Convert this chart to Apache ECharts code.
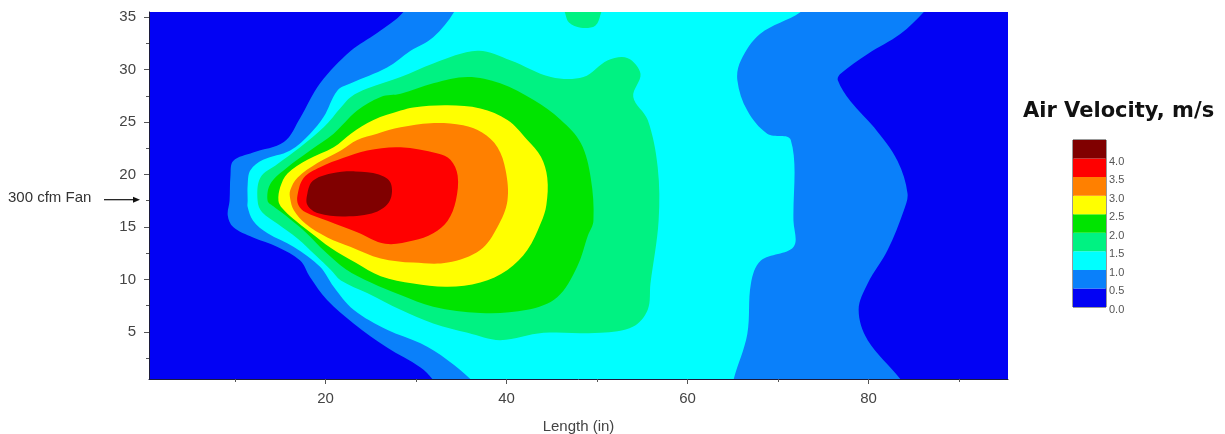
<!DOCTYPE html>
<html><head><meta charset="utf-8">
<script src="https://cdn.jsdelivr.net/npm/echarts@6/dist/echarts.min.js"></script>
<style>html,body{margin:0;padding:0;background:#fff}#c{width:1225px;height:434px}</style>
</head><body><div id="c"></div>
<script>
// ---- axis & legend values ----
const xRange = [0.5, 95.4];
const yRange = [0.5, 35.5];
const xTickValues = [20, 40, 60, 80];
const xMinorTicks = [10, 30, 50, 70, 90];
const yTickValues = [5, 10, 15, 20, 25, 30, 35];
const yMinorTicks = [2.5, 7.5, 12.5, 17.5, 22.5, 27.5, 32.5];
const levelValues = [0.0, 0.5, 1.0, 1.5, 2.0, 2.5, 3.0, 3.5, 4.0];
const levelColors = ['#0202F4', '#0A80FA', '#00FFFF', '#00F282', '#00E400', '#FFFF00', '#FF8000', '#FF0000', '#800000'];
const fanY = 17.6;
const xName = 'Length (in)';
const legendTitle = 'Air Velocity, m/s';
const fanLabel = '300 cfm Fan';

// ---- contour boundaries (Length in, Height in) ----
const region00 = [[0.5,0.5],[95.4,0.5],[95.4,35.5],[0.5,35.5]];
const region05 = [[29.0,37],[28.6,35.5],[25.7,33.5],[22.8,31.8],[19.4,28.7],[17.2,25.4],[15.4,23.1],[12.0,22.1],[9.8,21.3],[9.5,19.9],[9.4,17.5],[9.2,16.1],[9.8,15.0],[12.0,14.0],[14.7,13.1],[17.2,11.8],[18.3,10.2],[20.2,8.0],[23.1,5.8],[26.8,3.5],[30.5,1.6],[31.8,0.5],[33,-1],[60,-1.5],[84.5,-1],[83.5,0.5],[79.9,4.2],[78.9,7.1],[79.9,9.6],[82.1,12.8],[83.9,16.6],[84.3,18.2],[83.2,21.3],[80.6,24.5],[78.0,27.0],[76.6,29.0],[76.9,29.6],[79.9,31.5],[83.5,33.4],[86.1,35.5],[87.5,37],[60,37.5]];
const region10 = [[34.6,37],[34.2,35.5],[31.9,33.1],[29.4,31.8],[26.8,30.2],[22.8,28.7],[21.3,28.0],[19.8,25.5],[18.3,23.9],[16.1,22.3],[13.1,21.4],[11.7,20.4],[11.4,19.0],[11.4,17.5],[11.4,16.9],[12.0,15.6],[13.6,14.4],[16.5,13.1],[19.4,11.2],[20.9,9.3],[23.1,7.1],[26.8,5.2],[30.5,3.9],[33.5,2.3],[36.0,0.5],[37.5,-1],[50,-1.5],[64.8,-1],[65.1,0.5],[66.6,4.8],[67.0,9.6],[68.1,11.8],[71.7,13.1],[71.7,15.6],[71.4,23.3],[68.8,23.9],[66.6,26.1],[65.5,29.0],[65.9,30.9],[68.0,33.4],[72.5,35.5],[74,37],[55,37.5]];
const region15 = [[12.5,17.5],[12.8,19.7],[14.7,21.0],[17.2,22.6],[19.8,24.5],[21.7,26.4],[22.8,27.4],[24.6,28.2],[28.3,29.3],[31.9,30.6],[36.8,31.8],[40.4,30.9],[44.9,29.3],[48.5,29.3],[51.2,30.9],[53.4,31.1],[54.8,29.6],[54.0,27.4],[55.6,25.2],[56.7,20.7],[56.8,15.6],[55.9,9.6],[55.6,7.1],[54.0,5.5],[50.4,4.9],[44.1,4.9],[39.3,4.2],[35.7,4.9],[31.9,5.8],[28.3,7.1],[24.6,8.7],[21.7,9.9],[20.6,10.9],[18.9,12.3],[16.9,13.9],[14.7,15.3],[13.0,16.4]];
const region15Top = [[46.3,36.5],[46.5,35.3],[46.9,34.5],[48.2,34.0],[49.8,34.2],[50.4,35.3],[50.6,36.5]];
const region20 = [[13.6,17.5],[13.9,19.1],[15.8,20.7],[18.3,22.3],[20.9,23.9],[23.5,26.1],[26.1,27.4],[28.3,27.7],[31.9,28.7],[35.7,29.3],[39.3,28.7],[43.0,27.1],[46.0,25.2],[48.2,23.0],[49.3,19.7],[49.6,15.6],[49.0,14.2],[47.8,11.2],[45.6,8.3],[42.3,7.1],[37.1,6.8],[31.9,7.4],[28.3,8.5],[25.0,9.7],[22.2,11.0],[20.0,12.6],[17.8,14.5],[15.6,16.1],[14.2,17.0]];
const region25 = [[14.8,17.5],[15.0,18.8],[15.8,20.1],[18.0,21.4],[20.9,22.6],[22.8,23.9],[25.3,25.2],[28.3,26.1],[29.7,26.4],[33.5,26.6],[37.1,26.3],[40.1,25.2],[42.3,23.3],[43.8,21.7],[44.5,19.7],[44.4,17.1],[43.8,15.4],[42.3,12.8],[40.1,10.9],[37.1,9.7],[33.5,9.3],[29.7,9.6],[26.1,10.3],[23.3,11.6],[20.6,13.0],[18.3,14.5],[16.4,15.8],[15.2,16.8]];
const region30 = [[16.1,17.7],[16.1,18.5],[16.9,19.7],[19.1,21.1],[21.7,22.3],[23.5,23.3],[25.7,23.9],[28.3,24.5],[31.6,24.9],[35.2,24.7],[37.3,24.0],[39.0,22.6],[39.9,20.4],[40.1,17.5],[39.0,15.0],[37.1,12.8],[33.5,11.6],[29.7,11.6],[26.1,12.0],[22.8,13.1],[20.2,14.0],[17.8,15.3],[16.5,16.6]];
const region35 = [[16.9,18.0],[17.6,19.7],[19.4,20.7],[22.0,21.6],[24.6,22.3],[28.3,22.6],[32.4,22.0],[33.8,21.4],[34.6,19.9],[34.4,17.5],[33.5,15.6],[31.9,14.4],[29.7,13.7],[26.6,13.4],[23.5,14.5],[20.2,15.6],[17.8,16.4],[17.0,17.1]];
const region40 = [[18.0,18.2],[18.6,19.4],[20.6,20.1],[23.3,20.3],[25.9,20.0],[27.2,19.2],[27.1,17.5],[25.5,16.4],[22.2,16.0],[19.2,16.3],[18.0,17.1]];

const contourRings = [
  {lvl: 0, pts: region00}, {lvl: 1, pts: region05}, {lvl: 2, pts: region10},
  {lvl: 3, pts: region15}, {lvl: 3, pts: region15Top}, {lvl: 4, pts: region20},
  {lvl: 5, pts: region25}, {lvl: 6, pts: region30}, {lvl: 7, pts: region35},
  {lvl: 8, pts: region40}
];

const chart = echarts.init(document.getElementById('c'), null, {renderer: 'canvas'});
const labelFont = 'Liberation Sans, Arial, sans-serif';
const axisLineColor = '#1c1c3c';

function renderContour(params, api) {
  const r = contourRings[params.dataIndex];
  const pts = r.pts.map(p => api.coord(p));
  const cs = params.coordSys;
  return {
    type: 'polygon',
    shape: {points: pts, smooth: r.lvl === 0 ? 0 : 0.35},
    style: {fill: levelColors[r.lvl]},
    clipPath: {type: 'rect', shape: {x: cs.x, y: cs.y, width: cs.width, height: cs.height}}
  };
}
function renderBand(params, api) {
  const lo = api.value(1), hi = api.value(2);
  const top = api.coord([0, hi]);
  const bot = api.coord([0, lo]);
  const w = api.size([1, 0])[0];
  return {
    type: 'rect',
    shape: {x: top[0] - w / 2, y: top[1], width: w, height: bot[1] - top[1]},
    style: {fill: levelColors[api.value(3)]}
  };
}

chart.setOption({
  animation: false,
  backgroundColor: '#ffffff',
  title: {
    text: legendTitle, left: 1023, top: 101, padding: 0,
    textStyle: {fontFamily: 'DejaVu Sans', fontWeight: 'bold', fontSize: 21, color: '#111'}
  },
  grid: [
    {left: 149, top: 12, width: 859, height: 367, outerBoundsMode: 'none', containLabel: false},
    {left: 1073, top: 140, width: 33, height: 167, outerBoundsMode: 'none', containLabel: false,
     show: true, borderColor: '#333', borderWidth: 1, backgroundColor: 'transparent'}
  ],
  xAxis: [
    {type: 'value', gridIndex: 0, min: xRange[0], max: xRange[1], position: 'bottom', z: 10,
     name: xName, nameLocation: 'middle', nameGap: 40,
     nameTextStyle: {fontFamily: labelFont, fontSize: 15, color: '#444'},
     axisLine: {show: true, lineStyle: {color: axisLineColor, width: 1}},
     axisTick: {show: true, length: 5, customValues: xTickValues, lineStyle: {color: '#555'}},
     axisLabel: {customValues: xTickValues, margin: 12, fontFamily: labelFont, fontSize: 15, color: '#444'},
     splitLine: {show: false}},
    {type: 'value', gridIndex: 0, min: xRange[0], max: xRange[1], position: 'bottom', z: 10,
     axisLine: {show: false},
     axisTick: {show: true, length: 3, customValues: xMinorTicks, lineStyle: {color: '#555'}},
     axisLabel: {show: false}, splitLine: {show: false}},
    {type: 'category', gridIndex: 1, data: ['v'], show: false}
  ],
  yAxis: [
    {type: 'value', gridIndex: 0, min: yRange[0], max: yRange[1], position: 'left', z: 10,
     axisLine: {show: true, lineStyle: {color: axisLineColor, width: 1}},
     axisTick: {show: true, length: 5, customValues: yTickValues, lineStyle: {color: '#555'}},
     axisLabel: {customValues: yTickValues, margin: 13, fontFamily: labelFont, fontSize: 15, color: '#444'},
     splitLine: {show: false}},
    {type: 'value', gridIndex: 0, min: yRange[0], max: yRange[1], position: 'left', z: 10,
     axisLine: {show: false},
     axisTick: {show: true, length: 3, customValues: yMinorTicks, lineStyle: {color: '#555'}},
     axisLabel: {show: false}, splitLine: {show: false}},
    {type: 'value', gridIndex: 1, min: 0, max: 4.5, position: 'right',
     axisLine: {show: false}, axisTick: {show: false}, splitLine: {show: false},
     axisLabel: {customValues: levelValues, margin: 3,
                 formatter: v => '{t|' + v.toFixed(1) + '}',
                 rich: {t: {fontFamily: labelFont, fontSize: 11, color: '#555', padding: [6, 0, 0, 0]}}}}
  ],
  series: [
    {type: 'custom', xAxisIndex: 0, yAxisIndex: 0, silent: true, clip: true,
     data: contourRings.map((r, i) => [r.pts[0][0], r.pts[0][1], i]),
     renderItem: renderContour},
    {type: 'custom', xAxisIndex: 2, yAxisIndex: 2, silent: true,
     data: levelValues.map((lo, i) => [0, lo, lo + 0.5, i]),
     encode: {x: 0, y: [1, 2]},
     renderItem: renderBand}
  ]
});

// annotation: fan position arrow, placed through the y axis scale
const fanPx = chart.convertToPixel({yAxisIndex: 0}, fanY);
const axisPx = chart.convertToPixel({xAxisIndex: 0}, xRange[0]);
chart.setOption({
  graphic: [
    {type: 'text', left: 8, top: fanPx - 9,
     style: {text: fanLabel, fontFamily: labelFont, fontSize: 15, fill: '#333'}},
    {type: 'line', shape: {x1: 104, y1: fanPx, x2: axisPx - 13, y2: fanPx},
     style: {stroke: '#111', lineWidth: 1.2}},
    {type: 'polygon', shape: {points: [[axisPx - 16, fanPx - 3], [axisPx - 9, fanPx], [axisPx - 16, fanPx + 3]]},
     style: {fill: '#111'}}
  ]
});
</script>
</body></html>
